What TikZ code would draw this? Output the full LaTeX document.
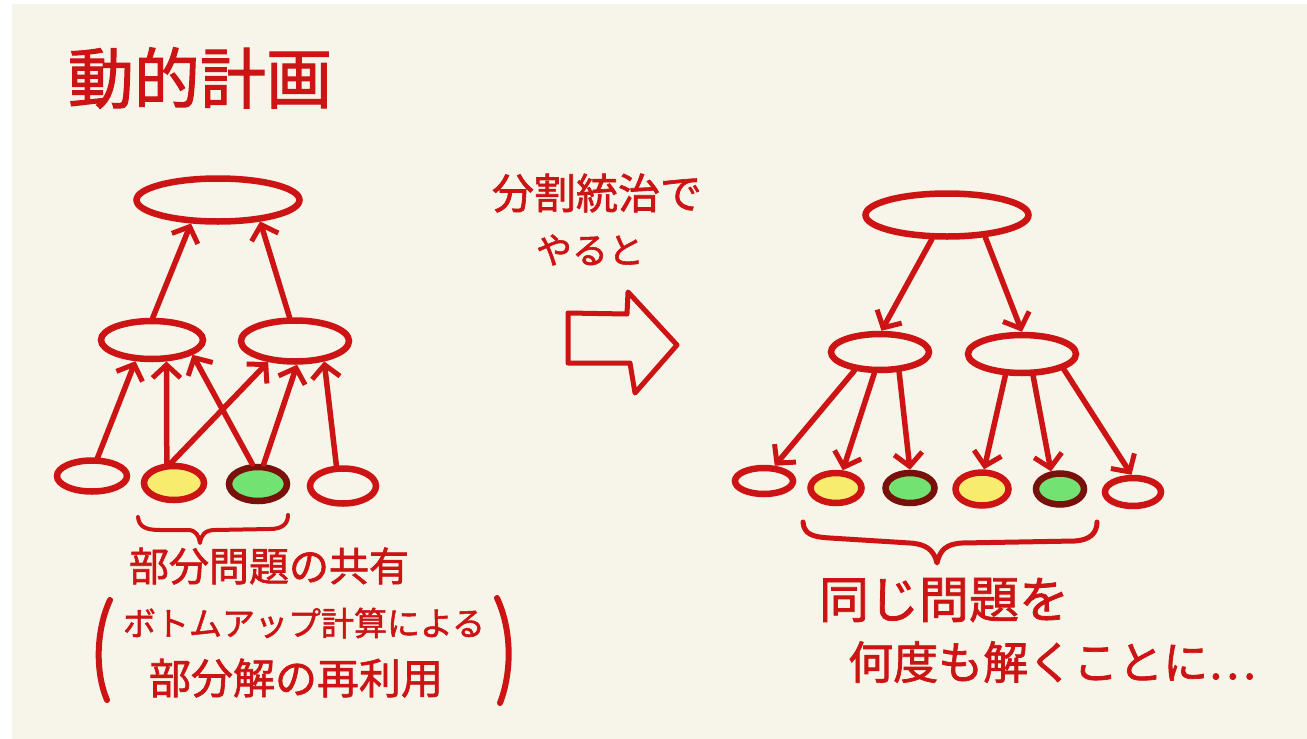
\documentclass[tikz,border=0pt]{standalone}
\usepackage{fontspec}
\newfontfamily\jp[FakeBold=1.6]{Noto Sans CJK JP}
\usetikzlibrary{shapes.geometric,arrows.meta}
\definecolor{lred}{RGB}{204,20,20}
\definecolor{bgc}{RGB}{247,244,233}
\definecolor{yel}{RGB}{247,236,110}
\definecolor{grn}{RGB}{114,226,114}
\definecolor{dkred}{RGB}{120,16,12}
\newcommand{\jpsz}[1]{\fontsize{#1}{#1}\selectfont}
\tikzset{
  ov/.style={ellipse, draw=lred, line width=6.5pt, inner sep=0pt, fill=bgc},
  ovy/.style={ov, fill=yel},
  ovg/.style={ov, fill=grn, draw=dkred},
  arr/.style={draw=lred, line width=5.5pt, line cap=round, line join=round,
    -{Straight Barb[length=13pt,width=28pt,line width=5pt]}},
  txt/.style={text=lred, inner sep=0pt, font=\jp},
  hand/.style={draw=lred, line width=5pt, line cap=round, line join=round},
}
\begin{document}
\begin{tikzpicture}[x=1pt,y=-1pt]
\useasboundingbox (0,0) rectangle (1307,739);
\fill[white] (0,0) rectangle (1307,739);
\fill[bgc] (12,4) rectangle (1307,739);

% title
\node[txt, font=\jp\jpsz{66}] (title) at (200,78) {動的計画};

% ---------- left tree (dynamic programming) ----------
\node[ov, minimum width=163pt, minimum height=43pt] (T) at (218,200) {};
\node[ov, minimum width=102pt, minimum height=38pt] (M1) at (152,340) {};
\node[ov, minimum width=108pt, minimum height=41pt] (M2) at (295,341) {};
\node[ov, minimum width=70pt, minimum height=31pt] (B1) at (92,476) {};
\node[ovy, minimum width=60pt, minimum height=34pt] (B2) at (174,483) {};
\node[ovg, minimum width=58pt, minimum height=34pt] (B3) at (258,484) {};
\node[ov, minimum width=66pt, minimum height=35pt] (B4) at (343,486) {};

\draw[arr] (M1.88) -- (T.221);
\draw[arr] (M2.103) -- (T.333);
\draw[arr] (B1.73) -- (M1.232);
\draw[arr] (B2.110) -- (M1.304);
\draw[arr] (B2.98) -- (M2.218);
\draw[arr] (B3.106) -- (M1.-20);
\draw[arr] (B3.74) -- (M2.275);
\draw[arr] (B4.108) -- (M2.-35);

% brace left
\coordinate (lbA) at (138,517);
\coordinate (lbB) at (200,543);
\coordinate (lbC) at (288,515);
\draw[hand, line width=4pt] (lbA) .. controls (139,527) and (146,530) .. (160,530)
  -- (188,530) .. controls (196,530) and (199,536) .. (lbB)
  .. controls (201,535) and (205,530) .. (215,530)
  -- (270,529) .. controls (282,529) and (288,524) .. (lbC);

\node[txt, font=\jp\jpsz{40}] (share) at (269,566) {部分問題の共有};
\node[txt, font=\jp\jpsz{33}] (bottomup) at (304,623) {ボトムアップ計算による};
\node[txt, font=\jp\jpsz{42}] (reuse) at (296,678) {部分解の再利用};

% parentheses
\coordinate (lpA) at (110,600);
\coordinate (lpB) at (107,700);
\draw[hand, line width=6pt] (lpA) .. controls (96,630) and (95,672) .. (lpB);
\coordinate (rpA) at (497,598);
\coordinate (rpB) at (500,703);
\draw[hand, line width=6pt] (rpA) .. controls (512,630) and (512,672) .. (rpB);

% ---------- middle ----------
\node[txt, font=\jp\jpsz{42}] (divide) at (597,193) {分割統治で};
\node[txt, font=\jp\jpsz{36}] (yaruto) at (590,250) {やると};
\coordinate (ha1) at (568,313);
\draw[hand, line width=5pt] (ha1) -- (627,314) -- (628,292) -- (677,345)
  -- (635,393) -- (630,363) -- (568,363) -- cycle;

% ---------- right tree (divide and conquer) ----------
\node[ov, minimum width=163pt, minimum height=43pt] (RT) at (947,215) {};
\node[ov, minimum width=98pt, minimum height=36pt] (RM1) at (880,352) {};
\node[ov, minimum width=108pt, minimum height=38pt] (RM2) at (1022,354) {};
\node[ov, minimum width=58pt, minimum height=26pt] (RB1) at (764,481) {};
\node[ovy, minimum width=51pt, minimum height=30pt] (RB2) at (836,488) {};
\node[ovg, minimum width=49pt, minimum height=30pt] (RB3) at (910,488) {};
\node[ovy, minimum width=53pt, minimum height=33pt] (RB4) at (982,489) {};
\node[ovg, minimum width=48pt, minimum height=31pt] (RB5) at (1060,489) {};
\node[ov, minimum width=56pt, minimum height=28pt] (RB6) at (1133,492) {};

\draw[arr] (RT.238) -- (RM1.86);
\draw[arr] (RT.-30) -- (RM2.90);
\draw[arr] (RM1.216) -- (RB1.55);
\draw[arr] (RM1.255) -- (RB2.69);
\draw[arr] (RM1.-46) -- (RB3.90);
\draw[arr] (RM2.232) -- (RB4.84);
\draw[arr] (RM2.-63) -- (RB5.117);
\draw[arr] (RM2.-20) -- (RB6.95);

% brace right
\coordinate (rbA) at (803,522);
\coordinate (rbB) at (937,563);
\coordinate (rbC) at (1097,522);
\draw[hand, line width=5pt] (rbA) .. controls (804,534) and (812,537) .. (830,538)
  -- (910,543) .. controls (926,544) and (934,550) .. (rbB)
  .. controls (940,550) and (946,544) .. (962,543)
  -- (1075,541) .. controls (1090,540) and (1097,533) .. (rbC);

\node[txt, font=\jp\jpsz{50}] (same) at (944,600) {同じ問題を};
\node[txt, font=\jp\jpsz{45}, anchor=west] (many) at (848,662) {何度も解くことに…};
\end{tikzpicture}
\end{document}
